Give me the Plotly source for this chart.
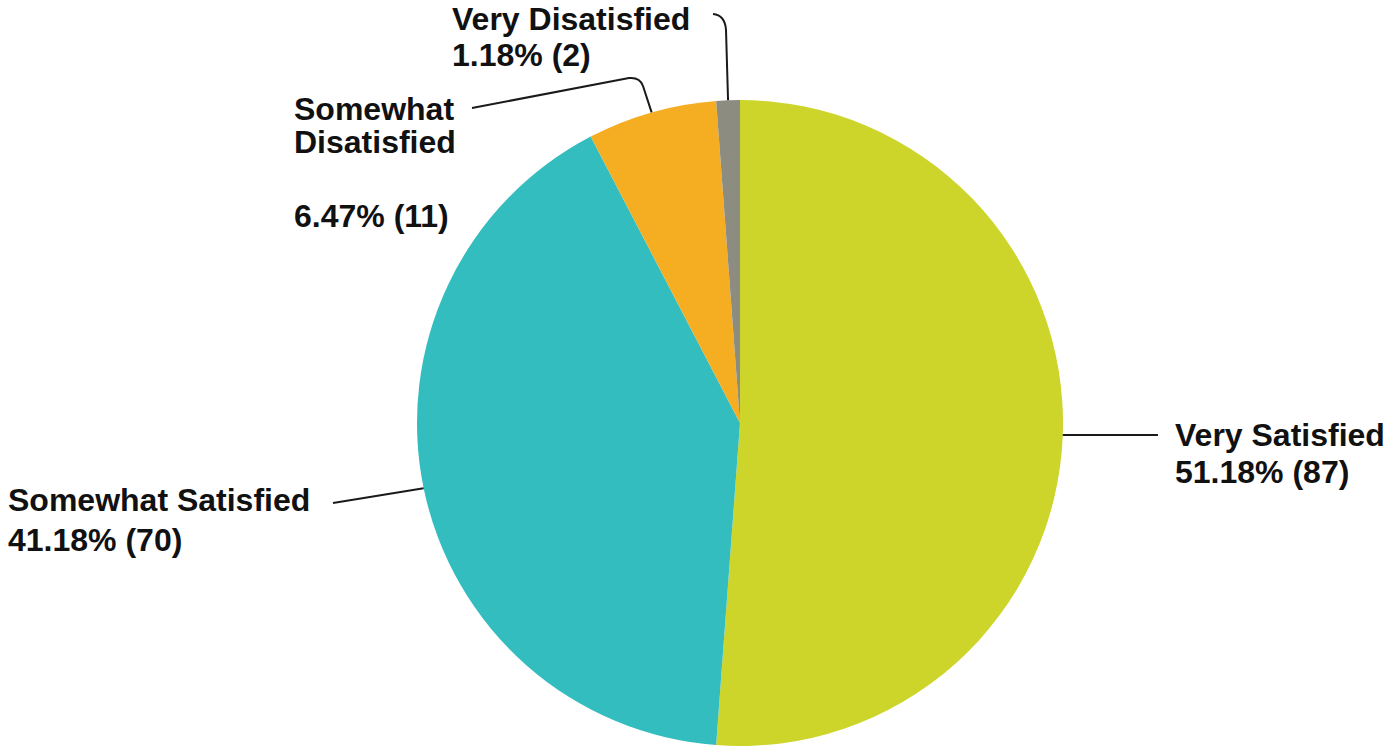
import math
import plotly.graph_objects as go

# ---- data ----
categories = ["Very Satisfied", "Somewhat Satisfied", "Somewhat Disatisfied", "Very Disatisfied"]
counts = [87, 70, 11, 2]
colors = ["#CDD52A", "#34BDBF", "#F5AE22", "#8D8C80"]

W, H = 1389, 750
# pie geometry (pixels)
CX, CY, R = 740, 423, 323

def px(x, y):
    return x / W, 1 - y / H

total = sum(counts)
pcts = [100 * c / total for c in counts]
value_txt = [f"{p:.2f}% ({c})" for p, c in zip(pcts, counts)]

# label lines with (left x, centre y) positions in pixels
label_lines = [
    (categories[0], 1175, 436), (value_txt[0], 1175, 473),
    (categories[1], 8, 501), (value_txt[1], 8, 541),
    ("Somewhat", 294, 110), ("Disatisfied", 294, 143), (value_txt[2], 294, 217),
    (categories[3], 452, 20), (value_txt[3], 452, 56),
]

fig = go.Figure()
fig.add_trace(go.Pie(
    labels=categories, values=counts,
    marker=dict(colors=colors, line=dict(width=0)),
    sort=False, direction="clockwise", rotation=0,
    textinfo="none", showlegend=False,
    domain=dict(x=[(CX - R) / W, (CX + R) / W], y=[1 - (CY + R) / H, 1 - (CY - R) / H]),
))

# leader line start points from slice mid-angles
starts = []
cum = 0
for c in counts:
    th = 2 * math.pi * (cum + c / 2) / total
    starts.append((CX + R * math.sin(th), CY - R * math.cos(th)))
    cum += c

def P(x, y):
    a, b = px(x, y)
    return f"{a:.5f},{b:.5f}"

paths = []
s = starts[0]
paths.append(f"M{P(*s)} L{P(1158, s[1])}")
s = starts[1]
paths.append(f"M{P(*s)} L{P(333, 503)}")
s = starts[2]
paths.append(f"M{P(*s)} L{P(643, 86)} Q{P(640, 77)} {P(629, 78)} L{P(472, 108)}")
s = starts[3]
paths.append(f"M{P(*s)} L{P(726, 30)} Q{P(725, 15)} {P(713, 14)}")

for p in paths:
    fig.add_shape(type="path", path=p, xref="paper", yref="paper",
                  line=dict(color="#1a1a1a", width=2))

for t, x, y in label_lines:
    ax, ay = px(x - 2, y - 1)
    fig.add_annotation(text=f"<b>{t}</b>", x=ax, y=ay, xref="paper", yref="paper",
                       xanchor="left", yanchor="middle", align="left",
                       showarrow=False,
                       font=dict(family="Liberation Sans", size=32, color="#111111"))

fig.update_layout(width=W, height=H, margin=dict(l=0, r=0, t=0, b=0),
                  paper_bgcolor="white", plot_bgcolor="white")
fig.write_html("out.html")
